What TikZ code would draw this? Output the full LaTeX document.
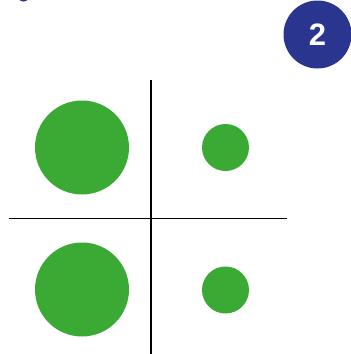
\documentclass[tikz,border=0pt]{standalone}
\usepackage{fontspec}
\setmainfont{Liberation Sans}
\definecolor{dotgreen}{HTML}{3BAA35}
\definecolor{badgeblue}{HTML}{2A3590}
\begin{document}
\begin{tikzpicture}[x=1pt,y=-1pt,
  bigdot/.style={circle,fill=dotgreen,minimum size=94pt,inner sep=0pt},
  smalldot/.style={circle,fill=dotgreen,minimum size=47pt,inner sep=0pt},
  axis/.style={draw=black,line width=1.8pt},
  badge/.style={circle,fill=badgeblue,minimum size=68pt,inner sep=0pt,text=white,font=\bfseries\fontsize{31}{31}\selectfont}]
\useasboundingbox (0,0) rectangle (351,354);
\fill[badgeblue] (23.5,-4.5) circle (6);
\node[badge] (num) at (317.5,34.5) {2};
\coordinate (vt) at (151,80);
\coordinate (vb) at (151,354);
\coordinate (hl) at (9,218.5);
\coordinate (hr) at (287,218.5);
\draw[axis] (vt) -- (vb);
\draw[axis] (hl) -- (hr);
\node[bigdot] (tl) at (82,147.5) {};
\node[smalldot] (tr) at (225.5,147.5) {};
\node[bigdot] (bl) at (82,289.5) {};
\node[smalldot] (br) at (225.5,290) {};
\end{tikzpicture}
\end{document}
